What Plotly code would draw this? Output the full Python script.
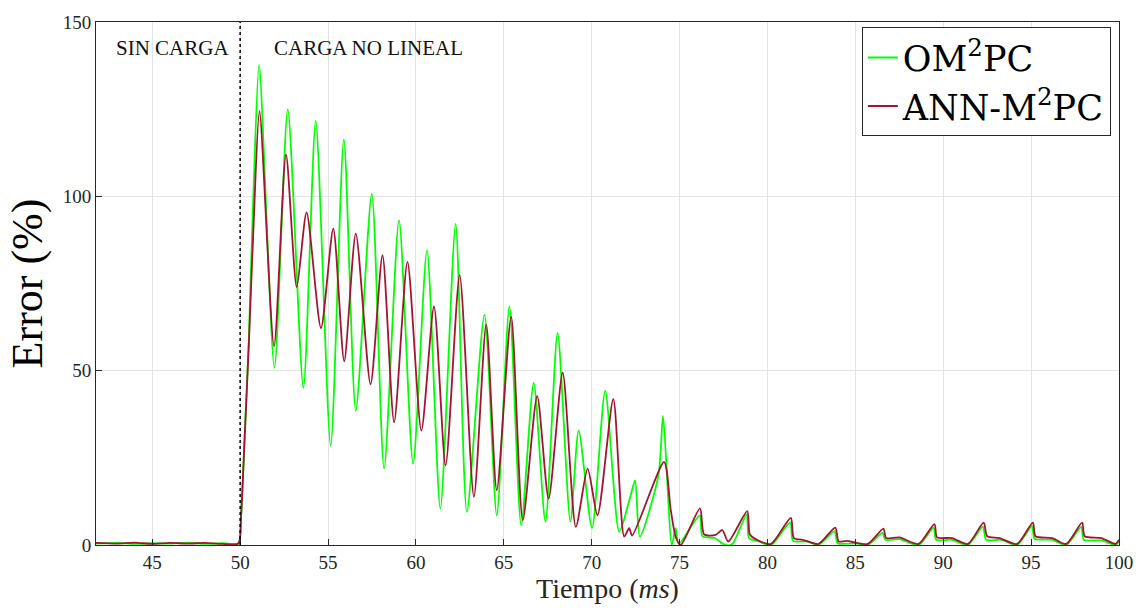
import plotly.graph_objects as go

# Error time series (ms, %) for each controller
t_om2pc = [41.8, 43.0, 44.0, 45.0, 46.0, 47.0, 48.0, 49.0, 49.9, 50.05, 50.25, 50.5, 50.75,
           51.08, 51.95, 52.71, 53.6, 54.3, 55.15, 55.9, 56.58, 57.49, 58.19, 59.04, 59.84,
           60.63, 61.39, 62.26, 62.9, 63.9, 64.6, 65.32, 65.99, 66.7, 67.37, 68.06, 68.79,
           69.26, 70.02, 70.77, 71.57, 72.17, 72.47, 72.74, 73.8, 74.06, 74.56, 74.78, 74.95,
           76.15, 76.3, 77.0, 77.6, 78.0, 78.82, 78.95, 79.5, 80.2, 81.3, 81.45, 82.3, 82.9,
           83.82, 84.0, 85.0, 85.7, 86.55, 86.7, 87.5, 88.6, 89.45, 89.6, 90.5, 91.4, 92.25,
           92.45, 93.3, 94.2, 95.05, 95.2, 96.2, 97.0, 97.85, 98.0, 99.0, 99.8, 100.0]
e_om2pc = [0.4, 0.6, 0.3, 0.5, 0.4, 0.7, 0.3, 0.5, 0.4, 8.0, 30.0, 60.0, 100.0,
           137.7, 50.8, 124.9, 45.1, 121.6, 28.5, 116.3, 38.5, 100.7, 21.9, 93.1, 23.3,
           84.5, 10.5, 92.1, 9.5, 66.0, 8.5, 68.4, 5.7, 46.5, 6.7, 60.8, 6.7,
           32.8, 4.9, 44.2, 3.8, 13.3, 18.5, 2.4, 20.0, 37.0, 0.0, 4.8, 0.3,
           8.5, 2.5, 2.0, 0.0, 0.3, 8.8, 2.0, 1.0, 0.0, 6.5, 1.2, 1.0, 0.0,
           4.0, 0.5, 0.5, 0.0, 3.5, 1.5, 1.7, 0.0, 5.0, 1.5, 1.5, 0.0, 5.3,
           1.5, 1.5, 0.0, 5.4, 1.8, 1.5, 0.0, 5.2, 1.5, 1.3, 0.0, 1.0]

t_ann = [41.8, 43.0, 44.0, 45.0, 46.0, 47.0, 48.0, 49.0, 49.9, 50.05, 50.25, 50.5, 50.75,
         51.1, 51.93, 52.61, 53.22, 53.78, 54.6, 55.3, 55.92, 56.58, 57.42, 58.1, 58.76,
         59.52, 60.31, 61.03, 61.69, 62.49, 63.3, 64.0, 64.6, 65.42, 66.08, 66.9, 67.55,
         68.35, 69.1, 69.77, 70.33, 71.23, 71.85, 72.13, 72.3, 74.12, 74.5, 74.8, 75.07,
         76.16, 76.4, 77.05, 77.43, 77.77, 78.85, 79.0, 79.4, 80.2, 81.33, 81.5, 82.0,
         82.9, 83.86, 84.05, 84.5, 85.7, 86.6, 86.75, 87.5, 88.6, 89.5, 89.65, 90.5, 91.4,
         92.3, 92.5, 93.2, 94.2, 95.1, 95.25, 96.2, 97.0, 97.9, 98.05, 99.0, 99.8, 100.0]
e_ann = [0.6, 0.4, 0.7, 0.3, 0.6, 0.4, 0.6, 0.3, 0.5, 8.0, 30.0, 58.0, 90.0,
         124.4, 57.0, 112.0, 74.0, 95.4, 62.2, 90.7, 52.7, 89.3, 46.1, 83.1, 35.2,
         81.2, 32.8, 68.4, 22.8, 77.4, 13.8, 63.2, 15.7, 65.5, 7.1, 42.7, 13.3,
         49.4, 5.2, 21.9, 8.5, 41.8, 2.4, 4.8, 2.7, 23.8, 10.0, 2.0, 0.0,
         10.5, 3.0, 2.9, 4.3, 1.0, 9.7, 3.0, 1.5, 0.3, 7.8, 2.0, 1.5,
         0.3, 5.0, 1.0, 1.2, 0.3, 4.7, 2.0, 2.2, 0.3, 6.0, 2.2, 2.0, 0.3,
         6.4, 2.5, 2.0, 0.3, 6.4, 2.5, 2.0, 0.3, 6.4, 2.5, 2.0, 0.3, 1.5]

x_ticks = [45, 50, 55, 60, 65, 70, 75, 80, 85, 90, 95, 100]
y_ticks = [0, 50, 100, 150]
load_step_ms = 50

SERIF = "Liberation Serif"
WIDE_SERIF = "DejaVu Serif"
AXIS_GRAY = "#262626"

fig = go.Figure()
fig.add_trace(go.Scatter(x=t_om2pc, y=e_om2pc, mode="lines",
                         name="OM<sup>2</sup>PC",
                         line=dict(color="#00FF00", width=1.8,
                                   shape="spline", smoothing=0.7)))
fig.add_trace(go.Scatter(x=t_ann, y=e_ann, mode="lines",
                         name="ANN-M<sup>2</sup>PC",
                         line=dict(color="#A2142F", width=1.8,
                                   shape="spline", smoothing=0.7)))

# Load connection instant
fig.add_shape(type="line", x0=load_step_ms, x1=load_step_ms, y0=0, y1=150,
              xref="x", yref="y", line=dict(color="black", width=1.5, dash="dot"))

fig.add_annotation(x=load_step_ms - 0.5, y=142.5, xref="x", yref="y", text="SIN CARGA",
                   showarrow=False, xanchor="right", yanchor="middle",
                   font=dict(family=SERIF, size=21, color="#111"))
fig.add_annotation(x=load_step_ms + 1.8, y=142.5, xref="x", yref="y", text="CARGA NO LINEAL",
                   showarrow=False, xanchor="left", yanchor="middle",
                   font=dict(family=SERIF, size=21, color="#111"))

fig.update_layout(
    width=1145, height=608,
    margin=dict(l=96, r=25, t=19, b=61),
    paper_bgcolor="white", plot_bgcolor="white",
    showlegend=True,
    legend=dict(x=0.992, y=0.99, xanchor="right", yanchor="top",
                bgcolor="white", bordercolor=AXIS_GRAY, borderwidth=1,
                font=dict(family=WIDE_SERIF, size=35, color="black"),
                itemwidth=30, tracegroupgap=0),
    xaxis=dict(range=[41.8, 100], tickvals=x_ticks, ticks="inside", ticklen=6,
               tickcolor=AXIS_GRAY, showgrid=True, gridcolor="#E3E3E3",
               showline=True, linecolor=AXIS_GRAY, linewidth=1, mirror=True,
               zeroline=False,
               tickfont=dict(family=SERIF, size=19, color=AXIS_GRAY),
               title=dict(text="Tiempo (<i>ms</i>)", standoff=4,
                          font=dict(family=SERIF, size=28, color=AXIS_GRAY))),
    yaxis=dict(range=[0, 150], tickvals=y_ticks, ticks="inside", ticklen=6,
               tickcolor=AXIS_GRAY, showgrid=True, gridcolor="#E3E3E3",
               showline=True, linecolor=AXIS_GRAY, linewidth=1, mirror=True,
               zeroline=False,
               tickfont=dict(family=SERIF, size=19, color=AXIS_GRAY),
               title=dict(text="Error (%)", standoff=6,
                          font=dict(family=SERIF, size=44, color="black"))),
)

fig.write_html("out.html")
